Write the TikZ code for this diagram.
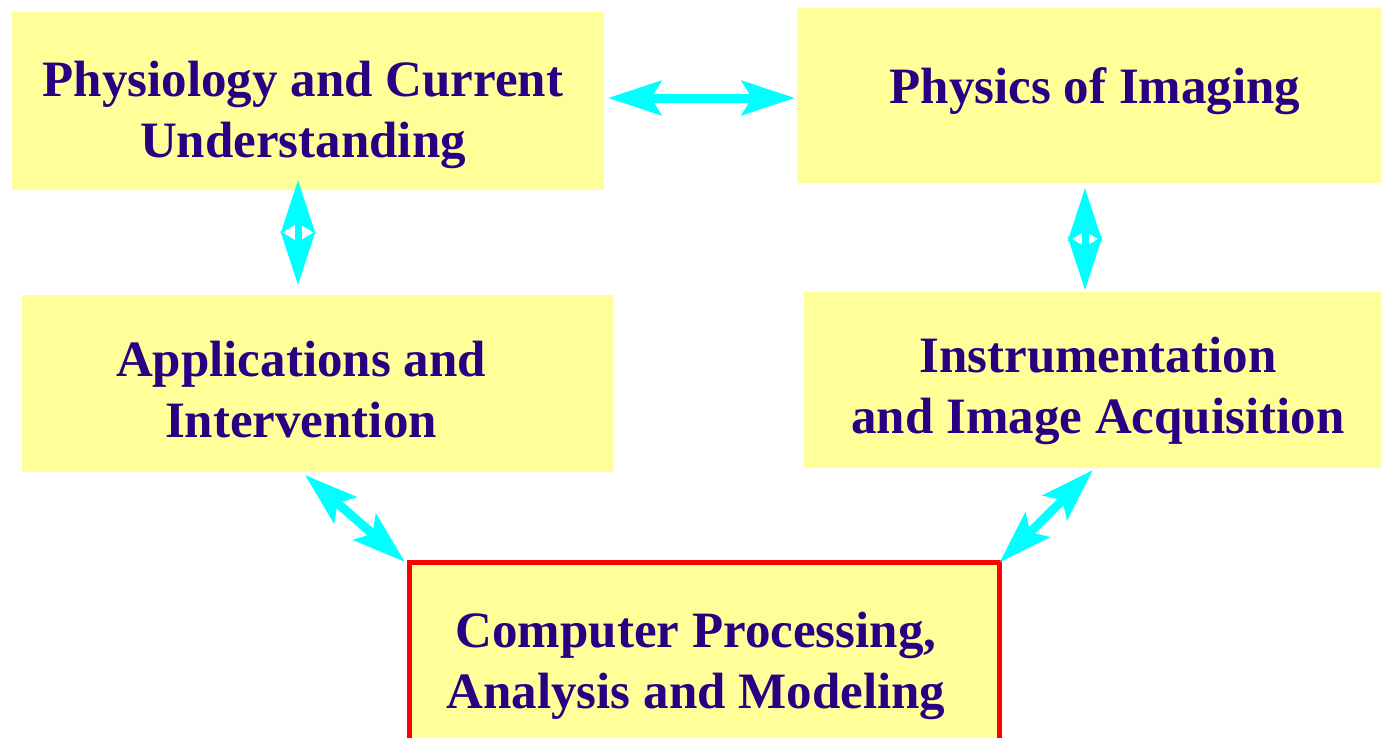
\documentclass[tikz,border=0pt]{standalone}
\usepackage{fontspec}
\setmainfont{Liberation Serif}
\usetikzlibrary{arrows.meta}
\definecolor{boxyellow}{RGB}{255,255,153}
\definecolor{txtblue}{RGB}{42,0,130}
\definecolor{arrcyan}{RGB}{0,255,255}
\definecolor{boxred}{RGB}{255,0,0}
\tikzset{
  box/.style={fill=boxyellow, draw=none, inner sep=0pt, outer sep=0pt, rectangle},
  mainbox/.style={box, draw=boxred, line width=5pt},
  lbl/.style={text=txtblue, font=\fontsize{51}{61}\selectfont\bfseries, align=center, inner sep=0pt},
  dbl/.style={draw=arrcyan, line width=9pt,
    arrows={Stealth[length=53pt,width=34pt,inset=10pt]-Stealth[length=53pt,width=34pt,inset=10pt]}},
  dblv/.style={dbl, line width=7pt}
}
\begin{document}
\begin{tikzpicture}[x=1pt,y=-1pt]
\useasboundingbox (0,0) rectangle (1381,737);
% boxes
\node[box, minimum width=592pt, minimum height=178pt] (b1) at (308,101) {};
\node[box, minimum width=584pt, minimum height=175pt] (b2) at (1089,95.5) {};
\node[box, minimum width=591pt, minimum height=177pt] (b3) at (317.5,383.5) {};
\node[box, minimum width=577pt, minimum height=176pt] (b4) at (1092.5,380) {};
\node[mainbox, minimum width=590pt, minimum height=197.5pt] (b5) at (704.5,661.25) {};
% labels
\node[lbl] (t1) at (303,115) {Physiology and Current\\Understanding};
\node[lbl] (t2) at (1095,91) {Physics of Imaging};
\node[lbl] (t3) at (301,390) {Applications and\\Intervention};
\node[lbl] (t4) at (1098,391) {Instrumentation\\and Image Acquisition};
\node[lbl] (t5) at (696,666) {Computer Processing,\\Analysis and Modeling};
% arrows
\draw[dbl] ([xshift=4pt,yshift=3pt]b1.east) -- ([xshift=-2pt,yshift=-2.5pt]b2.west);
\draw[dblv] ([xshift=-10pt,yshift=10pt]b1.south) -- ([xshift=-19.5pt,yshift=10pt]b3.north);
\draw[dblv] ([xshift=-4pt,yshift=-5pt]b2.south) -- ([xshift=-7.5pt,yshift=2pt]b4.north);
\draw[dbl] ([xshift=-12.5pt,yshift=-3pt]b3.south) -- ([xshift=-4.5pt,yshift=0.5pt]b5.north west);
\draw[dbl] ([xshift=0.5pt,yshift=-2pt]b4.south) -- (b5.north east);
\end{tikzpicture}
\end{document}
